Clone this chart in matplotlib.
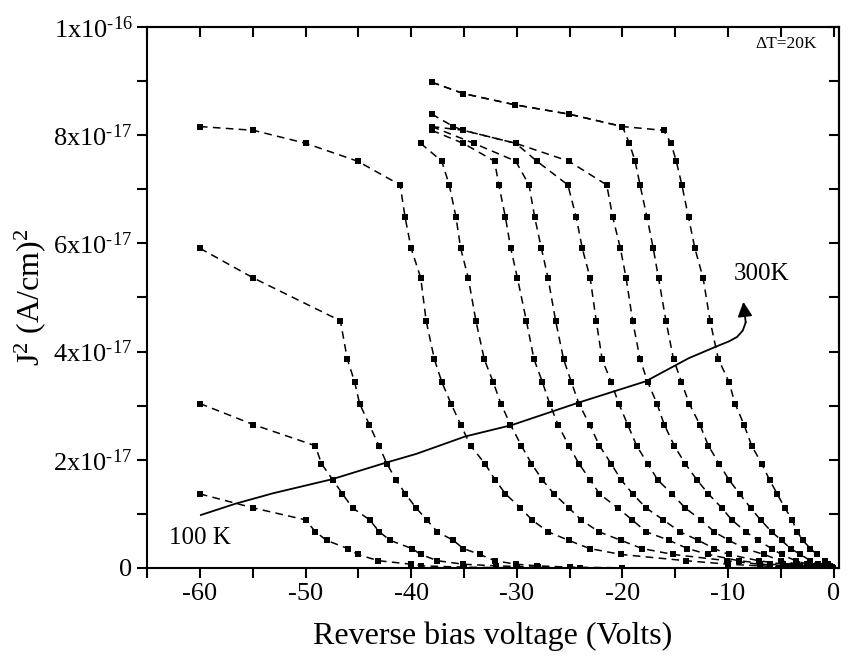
import numpy as np
import matplotlib
matplotlib.use("Agg")
import matplotlib.pyplot as plt
from matplotlib.ticker import MultipleLocator, FuncFormatter

plt.rcParams['font.family'] = ['Liberation Serif', 'DejaVu Serif']
plt.rcParams['mathtext.fontset'] = 'custom'
plt.rcParams['mathtext.rm'] = 'Liberation Serif'
plt.rcParams['mathtext.default'] = 'regular'
plt.rcParams['axes.unicode_minus'] = False

# J^2 levels shared by all curves (units of 1e-17 (A/cm)^2)
j2_levels = [8.98, 8.77, 8.56, 8.39, 8.16, 8.09, 7.85, 7.52, 7.08, 6.48,
             5.91, 5.36, 4.57, 3.86, 3.44, 3.04, 2.65, 2.26, 1.93, 1.63,
             1.37, 1.11, 0.89, 0.67, 0.51, 0.36, 0.25, 0.135, 0.07, 0.04,
             0.015, 0.003]

temps = [100, 120, 140, 160, 180, 200, 220, 240, 260, 280, 300]
# index of the first level each curve starts at
start_level = [20, 15, 10, 4, 6, 5, 4, 4, 3, 0, 0]

# reverse bias voltage at each level (nan = no point)
v_100 = [-60, -54.93, -50.0, -49.06, -48.0, -46.0, -45.05, -43.1, -40.0, -39.06,
         -35.0, -30.0]
v_120 = [-60, -54.93, -49.07, -48.49, -47.42, -46.5, -45.54, -43.93, -43.02, -41.98,
         -39.93, -39.08, -37.52, -35.07, -32.0, -28.0, -24.0]
v_140 = [-60, -54.93, -46.7, -46.04, -45.35, -44.88, -43.96, -43.05, -42.3, -41.44,
         -40.54, -39.53, -38.52, -37.52, -36.0, -35.07, -33.49, -32.08, -30.09, -28.08,
         -25.0, -20.0]
v_160 = [-60, -54.93, -49.97, -45.07, -41.04, -40.57, -40.0, -39.09, -38.58, -37.8,
         -37.1, -36.23, -35.31, -34.37, -33.02, -32.05, -31.07, -29.65, -28.56, -27.05,
         -25.07, -23.11, -20.12, -14.0, -10.0, -7.0, -4.0, -1.5]
v_180 = [-39.1, -37.1, -36.39, -35.75, -35.31, -34.59, -33.87, -33.08, -32.24, -31.51,
         -30.6, -29.56, -28.61, -27.58, -26.48, -25.07, -23.9, -22.24, -20.12, -18.14,
         -15.19, -10.1, -7.0, -4.5, -2.5, -1.0]
v_200 = [-38.05, -35.07, -32.1, -31.7, -31.07, -30.57, -29.94, -29.09, -28.37, -27.58,
         -26.89, -26.1, -25.07, -24.12, -23.05, -22.17, -20.44, -19.08, -17.76, -15.57,
         -13.84, -11.86, -9.0, -6.0, -4.0, -2.2, -0.9]
v_220 = [-38.05, np.nan, -34.06, -30.1, -28.84, -28.3, -27.67, -27.04, -26.32, -25.57,
         -24.84, -24.12, -23.11, -22.17, -21.07, -20.12, -19.03, -17.76, -16.13, -14.56,
         -12.8, -11.32, -9.94, -7.1, -4.8, -3.2, -1.8, -0.8]
v_240 = [-38.05, -35.07, -30.1, -28.1, -25.16, -24.37, -23.8, -23.05, -22.48, -21.92,
         -21.07, -20.35, -19.5, -18.65, -17.61, -16.67, -15.31, -14.06, -12.57, -11.32,
         -9.91, -8.4, -6.6, -5.0, -3.5, -2.4, -1.4, -0.6]
v_260 = [-38.05, -36.0, -35.07, -30.1, -25.07, -21.48, -20.91, -20.19, -19.65, -19.03,
         -18.33, -17.61, -16.73, -16.04, -15.09, -14.06, -12.95, -11.86, -10.59, -9.65,
         -8.33, -7.14, -5.88, -4.93, -3.6, -2.5, -1.7, -1.0, -0.4]
v_280 = [-38.05, -35.07, -30.12, -25.07, -20.0, np.nan, -19.34, -18.8, -18.33, -17.67,
         -17.08, -16.58, -15.88, -15.16, -14.41, -13.68, -12.67, -11.86, -10.85, -9.91,
         -8.9, -7.86, -6.92, -5.88, -4.93, -4.08, -3.14, -2.2, -1.5, -1.0,
         -0.6, -0.25]
v_300 = [-38.05, -35.07, -30.12, -25.07, -20.0, -16.1, -15.4, -14.9, -14.37, -13.74,
         -13.14, -12.36, -11.7, -10.92, -9.91, -9.34, -8.49, -7.76, -6.82, -6.07,
         -5.35, -4.62, -3.93, -3.45, -2.92, -2.2, -1.58, -0.85, -0.5, -0.3,
         -0.15, -0.05]
volts = [v_100, v_120, v_140, v_160, v_180, v_200, v_220, v_240, v_260, v_280, v_300]

# hand-drawn temperature arrow (V, J^2)
arrow_v = [-59.9, -56.6, -53.1, -47.5, -42.5, -39.5, -34.9, -32.6, -30.5, -24.1,
           -17.8, -13.7, -11.04, -9.9, -9.15, -8.6, -8.33]
arrow_j = [0.98, 1.19, 1.38, 1.64, 1.94, 2.11, 2.43, 2.54, 2.64, 3.06,
           3.45, 3.88, 4.10, 4.19, 4.27, 4.39, 4.54]

fig = plt.figure(figsize=(8.5, 6.6), dpi=100)
ax = fig.add_axes([0.173, 0.1394, 0.814, 0.8197])

levels = np.array(j2_levels)
for start, v in zip(start_level, volts):
    v = np.array(v, dtype=float)
    j = levels[start:start + len(v)]
    ok = ~np.isnan(v)
    ax.plot(v[ok], j[ok], color='black', linestyle=(0, (5, 3.5)), linewidth=1.1,
            marker='s', markersize=4.3, markerfacecolor='black', markeredgewidth=0)

ax.plot(arrow_v, arrow_j, color='black', linewidth=1.3, solid_joinstyle='round')
ax.annotate('', xy=(-8.55, 4.92), xytext=(arrow_v[-1], arrow_j[-1]),
            arrowprops=dict(arrowstyle='-|>', color='black', lw=1.3,
                            mutation_scale=22, shrinkA=0, shrinkB=0))

ax.text(-62.9, 0.56, '100 K', fontsize=18, va='center', ha='left')
ax.text(-9.5, 5.44, '300K', fontsize=18, va='center', ha='left')
ax.text(-4.5, 9.69, '\u0394T=20K', fontsize=12.5, va='center', ha='center')

ax.set_xlim(-65, 0.5)
ax.set_ylim(0, 10)
ax.xaxis.set_major_locator(MultipleLocator(10))
ax.xaxis.set_minor_locator(MultipleLocator(5))
ax.yaxis.set_major_locator(MultipleLocator(2))
ax.yaxis.set_minor_locator(MultipleLocator(1))


def ylab(val, pos):
    if abs(val) < 1e-9:
        return '0'
    if val >= 10:
        return '%gx10$^{\u201016}$' % (val / 10)
    return '%gx10$^{\u201017}$' % val


ax.yaxis.set_major_formatter(FuncFormatter(ylab))
ax.xaxis.set_major_formatter(FuncFormatter(lambda x, p: '%d' % round(x)))

for s in ax.spines.values():
    s.set_linewidth(1.5)
ax.tick_params(which='both', direction='out', length=7, width=1.5, labelsize=19)

top = ax.secondary_xaxis('top')
top.xaxis.set_major_locator(MultipleLocator(5))
top.tick_params(direction='in', length=7, width=1.5, labeltop=False)
right = ax.secondary_yaxis('right')
right.yaxis.set_major_locator(MultipleLocator(1))
right.tick_params(direction='in', length=7, width=1.5, labelright=False)
for sec in (top, right):
    for s in sec.spines.values():
        s.set_linewidth(1.5)

ax.set_xlabel('Reverse bias voltage (Volts)', fontsize=23, labelpad=12)
ax.set_ylabel('J$^2$ (A/cm)$^2$', fontsize=23, labelpad=4)

fig.savefig('out.png', dpi=100)
